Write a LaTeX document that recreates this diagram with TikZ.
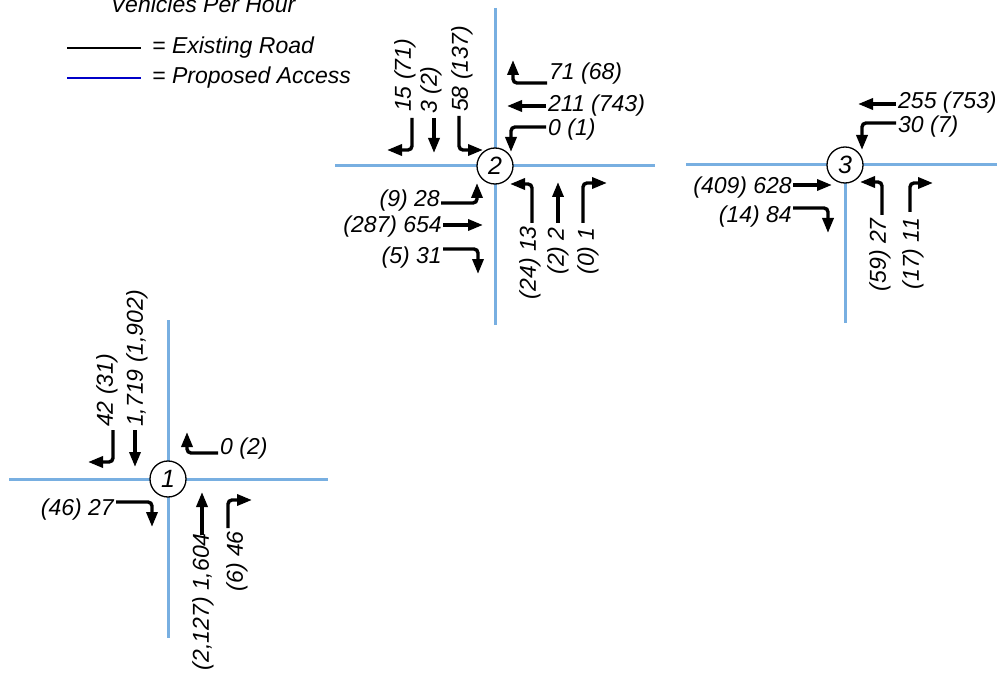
\documentclass[tikz,border=0pt]{standalone}
\usepackage{fontspec}
\setmainfont{Liberation Sans}
\usetikzlibrary{arrows.meta}
\definecolor{roadblue}{RGB}{120,175,225}
\definecolor{legblue}{RGB}{0,0,200}
\begin{document}
\begin{tikzpicture}[x=1pt,y=-1pt,
  lab/.style={font=\fontsize{23}{26}\selectfont\itshape, inner sep=0pt},
  rlab/.style={lab, rotate=90},
  arr/.style={line width=3.4pt, -{Triangle[length=15pt,width=11pt]}, rounded corners=4pt},
  road/.style={roadblue, line width=3pt},
  junc/.style={circle, draw, line width=1.3pt, fill=white, minimum size=36pt, inner sep=0pt, font=\fontsize{25}{26}\selectfont\itshape}]
\useasboundingbox (0,0) rectangle (997,674);
% legend
\node[lab, anchor=base] (title) at (203,13) {Vehicles Per Hour};
\draw[line width=2pt, black] (67,48) -- (141,48);
\node[lab, anchor=west] (lex) at (152,48) {= Existing Road};
\draw[line width=2pt, legblue] (67,78) -- (141,78);
\node[lab, anchor=west] (lpr) at (152,78) {= Proposed Access};

% ---------- intersection 2
\draw[road] (335,166) -- (655,166);
\draw[road] (495,8) -- (495,325);
\node[junc] (j2) at (495,166) {2};
% southbound
\draw[arr] (412,118) |- (387,150);
\node[rlab, anchor=west] (a1) at (405,112) {15 (71)};
\draw[arr] (434,118) -- (434,153);
\node[rlab, anchor=west] (a2) at (431,114) {3 (2)};
\draw[arr] (459,116) |- (483,150);
\node[rlab, anchor=west] (a3) at (462,112) {58 (137)};
% westbound
\draw[arr] (547,83) -| (513,60);
\node[lab, anchor=west] (a4) at (549,74) {71 (68)};
\draw[arr] (546,106) -- (507,106);
\node[lab, anchor=west] (a5) at (548,106) {211 (743)};
\draw[arr] (546,127) -| (511,152);
\node[lab, anchor=west] (a6) at (548,130) {0 (1)};
% eastbound
\draw[arr] (441,203) -| (477,183);
\node[lab, anchor=east] (a7) at (440,201) {(9) 28};
\draw[arr] (443,225) -- (483,225);
\node[lab, anchor=east] (a8) at (442,227) {(287) 654};
\draw[arr] (443,249) -| (478,274);
\node[lab, anchor=east] (a9) at (442,258) {(5) 31};
% northbound
\draw[arr] (532,223) |- (510,184);
\node[rlab, anchor=east] (a10) at (530,226) {(24) 13};
\draw[arr] (558,223) -- (558,182);
\node[rlab, anchor=east] (a11) at (558,227) {(2) 2};
\draw[arr] (583,223) |- (607,183);
\node[rlab, anchor=east] (a12) at (588,227) {(0) 1};

% ---------- intersection 3
\draw[road] (686,165) -- (997,165);
\draw[road] (845,165) -- (845,323);
\node[junc] (j3) at (845,165) {3};
\draw[arr] (896,104) -- (858,104);
\node[lab, anchor=west] (b1) at (898,103) {255 (753)};
\draw[arr] (896,123) -| (862,150);
\node[lab, anchor=west] (b2) at (898,127) {30 (7)};
\draw[arr] (793,185) -- (832,185);
\node[lab, anchor=east] (b3) at (792,188) {(409) 628};
\draw[arr] (793,208) -| (828,233);
\node[lab, anchor=east] (b4) at (792,217) {(14) 84};
\draw[arr] (882,215) |- (860,182);
\node[rlab, anchor=east] (b5) at (880,218) {(59) 27};
\draw[arr] (910,212) |- (933,183);
\node[rlab, anchor=east] (b6) at (913,218) {(17) 11};

% ---------- intersection 1
\draw[road] (9,479) -- (328,479);
\draw[road] (168,320) -- (168,638);
\node[junc] (j1) at (168,479) {1};
\draw[arr] (113,430) |- (88,462);
\node[rlab, anchor=west] (c1) at (107,427) {42 (31)};
\draw[arr] (135,430) -- (135,467);
\node[rlab, anchor=west] (c2) at (137,427) {1,719 (1,902)};
\draw[arr] (218,453) -| (187,432);
\node[lab, anchor=west] (c3) at (220,449) {0 (2)};
\draw[arr] (116,502) -| (152,527);
\node[lab, anchor=east] (c4) at (114,510) {(46) 27};
\draw[arr] (202,535) -- (202,492);
\node[rlab, anchor=east] (c5) at (203,533) {(2,127) 1,604};
\draw[arr] (228,528) |- (252,500);
\node[rlab, anchor=east] (c6) at (237,531) {(6) 46};
\end{tikzpicture}
\end{document}
